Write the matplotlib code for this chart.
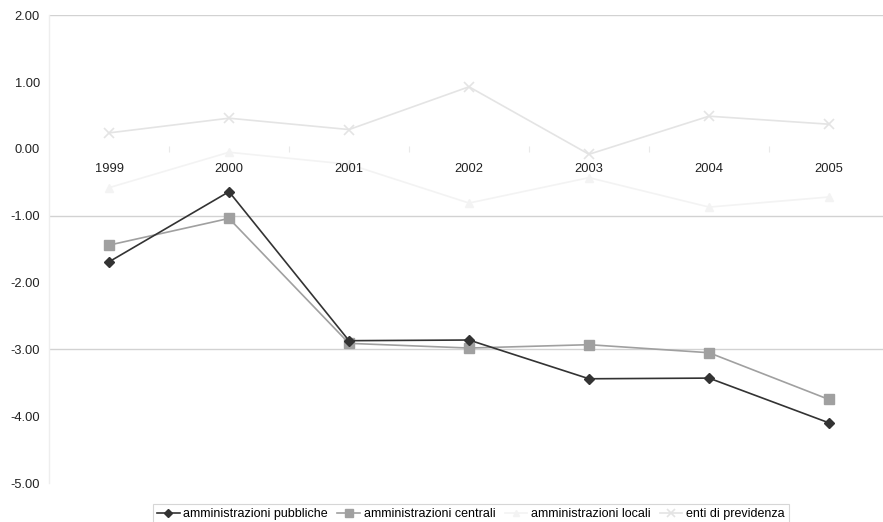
import matplotlib
matplotlib.use("Agg")
import matplotlib.pyplot as plt
from matplotlib.ticker import FixedLocator

plt.rcParams['font.family'] = ['Liberation Sans', 'DejaVu Sans']

years = ['1999', '2000', '2001', '2002', '2003', '2004', '2005']
pubbliche = [-1.69, -0.64, -2.87, -2.86, -3.44, -3.43, -4.10]
centrali = [-1.44, -1.04, -2.91, -2.98, -2.93, -3.05, -3.75]
locali = [-0.58, -0.05, -0.23, -0.81, -0.43, -0.87, -0.72]
previdenza = [0.24, 0.46, 0.29, 0.93, -0.08, 0.49, 0.37]
yticks = [2, 1, 0, -1, -2, -3, -4, -5]
gridvals = [2, -1, -3]

fig = plt.figure(figsize=(8.83, 5.22), dpi=100)
ax = fig.add_axes([49/883, (522-483)/522, 1 - 49/883, (483-15.3)/522])

x = list(range(len(years)))
ax.plot(x, pubbliche, color='#333333', lw=1.2, marker='D', ms=5, label='amministrazioni pubbliche', zorder=5)
ax.plot(x, centrali, color='#a0a0a0', lw=1.2, marker='s', ms=6.5, label='amministrazioni centrali', zorder=4)
ax.plot(x, locali, color='#f3f3f3', lw=1.2, marker='^', ms=6, label='amministrazioni locali', zorder=3)
ax.plot(x, previdenza, color='#e4e4e4', lw=1.2, marker='x', ms=7, mew=1.2, label='enti di previdenza', zorder=3)

for g in gridvals:
    ax.axhline(g, color='#d2d2d2', lw=1.0, zorder=1)

ax.set_ylim(-5, 2)
ax.set_xlim(-0.5, 6.45)
ax.set_yticks(yticks)
ax.set_yticklabels([f'{v:.2f}' for v in yticks])
ax.tick_params(axis='y', length=0, pad=6.5, labelsize=9.3, labelcolor='#222222')

ax.set_xticks(x)
ax.set_xticklabels(years)
ax.xaxis.set_minor_locator(FixedLocator([i + 0.5 for i in range(len(years) - 1)]))
ax.tick_params(axis='x', which='major', length=0, pad=10, labelsize=9.3, labelcolor='#222222')
ax.tick_params(axis='x', which='minor', length=5, direction='inout', color='#e9e9e9', width=0.8)
ax.xaxis.set_zorder(10)

for s in ['top', 'right']:
    ax.spines[s].set_visible(False)
ax.spines['bottom'].set_position(('data', 0))
ax.spines['bottom'].set_visible(False)
ax.spines['left'].set_color('#eeeeee')
ax.spines['left'].set_linewidth(1.0)

leg = ax.legend(loc='upper center', bbox_to_anchor=(0.5 + (471 - (49 + 883) / 2) / 834, -0.045),
                ncol=4, fontsize=9, frameon=True, fancybox=False, handlelength=1.8,
                handletextpad=0.3, columnspacing=0.75, borderpad=0.35, borderaxespad=0,
                markerscale=0.8)
leg.get_frame().set_edgecolor('#cccccc')
leg.get_frame().set_linewidth(0.8)

fig.savefig('out.png', dpi=100, facecolor='white')
